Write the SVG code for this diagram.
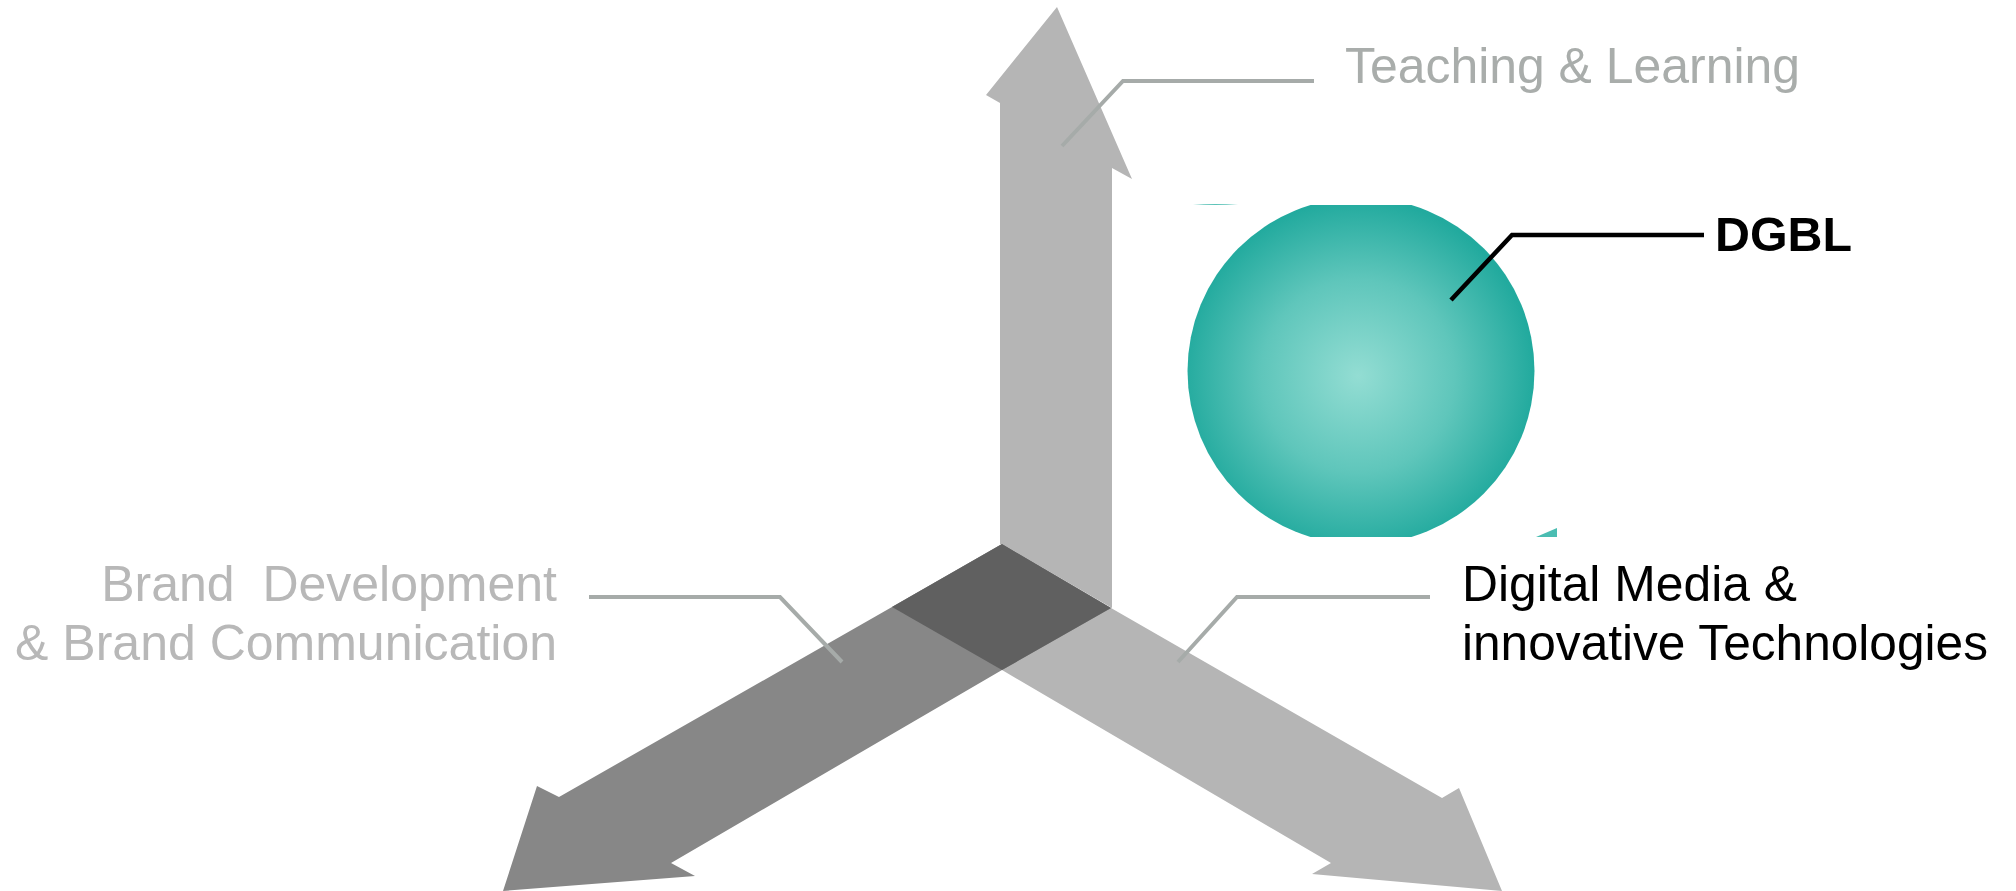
<svg xmlns="http://www.w3.org/2000/svg" width="2016" height="891" viewBox="0 0 2016 891">
<defs>
<style>
.lbl{font-family:"Liberation Sans",Arial,Helvetica,sans-serif;font-size:50px;}
.grey{fill:#a9adab;}
.brand{fill:#b8b8b8;}
.dark{fill:#000;}
.lead{fill:none;stroke:#a6aba9;stroke-width:4;stroke-linejoin:miter;}
.leadk{fill:none;stroke:#000;stroke-width:4.5;}
.lightarrow{fill:#b5b5b5;}
.midarrow{fill:#878787;}
</style>
<radialGradient id="sph" gradientUnits="userSpaceOnUse" cx="1358" cy="376" r="176">
<stop offset="0" stop-color="#93ddd3"/>
<stop offset="0.55" stop-color="#5fc6bb"/>
<stop offset="1" stop-color="#22aa9e"/>
</radialGradient>
<clipPath id="sphclip"><rect x="1180" y="205" width="370" height="332"/></clipPath>
</defs>
<rect width="2016" height="891" fill="#fff"/>

<g id="arrow-up">
<polygon class="lightarrow" points="1000,544 1000,103 986,95 1057,7 1132,179 1112,168 1112,608 1002,544"/>
</g>
<g id="arrow-down-right">
<polygon class="lightarrow" points="892,607 1002,544 1111,608 1442,798 1459,788 1502,891 1312,874 1331,863 1002,670"/>
</g>
<g id="arrow-down-left">
<polygon class="midarrow" points="1002,544 1111,608 1002,670 671,863 695,876 503,891 537,786 559,797 892,607"/>
</g>
<g id="center">
<polygon fill="#606060" points="1002,544 1111,608 1002,670 892,607"/>
</g>

<g id="sphere">
<circle cx="1361" cy="371" r="173.5" fill="url(#sph)" clip-path="url(#sphclip)"/>
<path d="M1193,205 Q1215,203 1238,205 Z" fill="#5cc3b8"/>
<path d="M1536,537 L1557,528 L1557,537 Z" fill="#4bbdb2"/>
</g>

<g id="connectors">
<polyline class="lead" points="1062,146 1123,81 1314,81"/>
<polyline class="leadk" points="1451,300 1512,235 1704,235"/>
<polyline class="lead" points="589,597 780,597 842,662"/>
<polyline class="lead" points="1430,597 1237,597 1178,662"/>
</g>

<g id="label-teaching">
<text class="lbl grey" x="1345" y="83" textLength="455" lengthAdjust="spacingAndGlyphs">Teaching &amp; Learning</text>
</g>
<g id="label-dgbl">
<text class="lbl dark" x="1715" y="251" font-weight="bold" style="font-size:49px" textLength="137" lengthAdjust="spacingAndGlyphs">DGBL</text>
</g>
<g id="label-brand">
<text class="lbl brand" xml:space="preserve" x="557" y="601" text-anchor="end">Brand  Development</text>
<text class="lbl brand" x="557" y="660" text-anchor="end">&amp; Brand Communication</text>
</g>
<g id="label-digital">
<text class="lbl dark" x="1462" y="601" textLength="335" lengthAdjust="spacingAndGlyphs">Digital Media &amp;</text>
<text class="lbl dark" x="1462" y="660" textLength="526" lengthAdjust="spacingAndGlyphs">innovative Technologies</text>
</g>
</svg>
